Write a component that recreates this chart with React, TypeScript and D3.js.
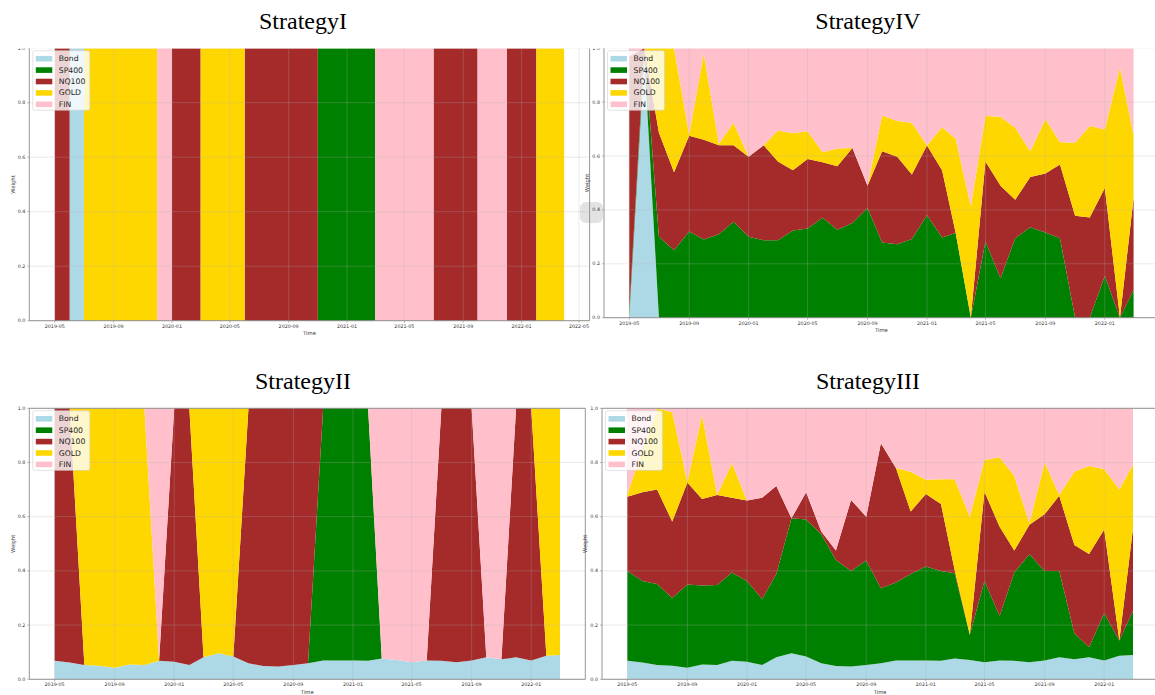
import React from 'react';
import * as d3 from 'd3';

const MONTHS = [
  '2019-05','2019-06','2019-07','2019-08','2019-09','2019-10','2019-11','2019-12',
  '2020-01','2020-02','2020-03','2020-04','2020-05','2020-06','2020-07','2020-08',
  '2020-09','2020-10','2020-11','2020-12','2021-01','2021-02','2021-03','2021-04',
  '2021-05','2021-06','2021-07','2021-08','2021-09','2021-10','2021-11','2021-12',
  '2022-01','2022-02','2022-03'
];
const STRAT_I_END = '2022-03-31';

const ASSETS = ['Bond', 'SP400', 'NQ100', 'GOLD', 'FIN'];
const COLORS = ['#add8e6', '#008000', '#a52a2a', '#ffd700', '#ffc0cb'];

// StrategyI: one asset held per month
const STRAT_I_PICK = [
  'NQ100','Bond','GOLD','GOLD','GOLD','GOLD','GOLD','FIN',
  'NQ100','NQ100','GOLD','GOLD','GOLD','NQ100','NQ100','NQ100',
  'NQ100','NQ100','SP400','SP400','SP400','SP400','FIN','FIN',
  'FIN','FIN','NQ100','NQ100','NQ100','FIN','FIN','NQ100',
  'NQ100','GOLD','GOLD'
];

// StrategyII: bond sleeve + one asset per month
const STRAT_II_PICK = [
  'NQ100','NQ100','GOLD','GOLD','GOLD','GOLD','GOLD','FIN',
  'NQ100','NQ100','GOLD','GOLD','GOLD','NQ100','NQ100','NQ100',
  'NQ100','NQ100','SP400','SP400','SP400','SP400','FIN','FIN',
  'FIN','FIN','NQ100','NQ100','NQ100','FIN','FIN','NQ100',
  'NQ100','GOLD','GOLD'
];
const STRAT_II_BOND = [
  0.068,0.062,0.053,0.050,0.043,0.055,0.053,0.068,0.065,0.053,0.081,0.096,0.084,0.059,0.049,0.047,
  0.053,0.059,0.069,0.069,0.069,0.068,0.077,0.071,0.063,0.069,0.068,0.063,0.069,0.081,0.074,0.081,
  0.069,0.087,0.090
];

// StrategyIII
const S3_BOND = [
  0.068,0.062,0.053,0.050,0.043,0.055,0.053,0.068,0.065,0.053,0.081,0.096,0.084,0.059,0.049,0.047,
  0.053,0.059,0.069,0.069,0.069,0.068,0.077,0.071,0.063,0.069,0.068,0.063,0.069,0.081,0.074,0.081,
  0.069,0.087,0.090
];
const S3_SP400 = [
  0.332,0.301,0.299,0.250,0.307,0.291,0.295,0.326,0.298,0.243,0.308,0.498,0.506,0.476,0.391,0.353,
  0.385,0.277,0.288,0.320,0.347,0.332,0.314,0.093,0.300,0.165,0.326,0.398,0.331,0.319,0.096,0.037,
  0.175,0.056,0.163
];
const S3_NQ100 = [
  0.274,0.327,0.348,0.282,0.376,0.319,0.332,0.276,0.297,0.374,0.324,0.000,0.100,0.010,0.035,0.262,
  0.162,0.535,0.422,0.230,0.268,0.247,0.012,0.000,0.329,0.329,0.081,0.109,0.209,0.277,0.326,0.344,
  0.309,0.000,0.304
];
const S3_GOLD = [
  0.006,0.160,0.300,0.403,0.004,0.310,0.000,0.127,0.000,0.000,0.000,0.000,0.000,0.000,0.000,0.000,
  0.000,0.000,0.001,0.147,0.052,0.091,0.335,0.436,0.117,0.256,0.275,0.006,0.191,0.003,0.270,0.325,
  0.223,0.557,0.236
];
const S3_FIN = [
  0.320,0.150,0.000,0.015,0.270,0.025,0.320,0.203,0.340,0.330,0.287,0.406,0.310,0.455,0.525,0.338,
  0.400,0.129,0.220,0.234,0.264,0.262,0.262,0.400,0.191,0.181,0.250,0.424,0.200,0.320,0.234,0.213,
  0.224,0.300,0.207
];

// StrategyIV
const S4_BOND = [
  0.000,0.965,0.000,0.000,0.000,0.000,0.000,0.000,0.000,0.000,0.000,0.000,0.000,0.000,0.000,0.000,
  0.000,0.000,0.000,0.000,0.000,0.000,0.000,0.000,0.000,0.000,0.000,0.000,0.000,0.000,0.000,0.000,
  0.000,0.000,0.000
];
const S4_SP400 = [
  0.020,0.035,0.300,0.250,0.320,0.290,0.310,0.356,0.300,0.287,0.287,0.324,0.331,0.371,0.326,0.351,
  0.407,0.279,0.273,0.292,0.380,0.298,0.314,0.000,0.283,0.146,0.295,0.336,0.316,0.295,0.000,0.000,
  0.156,0.000,0.103
];
const S4_NQ100 = [
  0.950,0.000,0.386,0.290,0.355,0.370,0.330,0.284,0.297,0.353,0.293,0.223,0.258,0.206,0.236,0.279,
  0.083,0.339,0.324,0.239,0.259,0.249,0.000,0.000,0.297,0.344,0.143,0.186,0.219,0.273,0.378,0.372,
  0.325,0.000,0.341
];
const S4_GOLD = [
  0.000,0.000,0.314,0.460,0.005,0.320,0.005,0.083,0.000,0.000,0.115,0.137,0.103,0.037,0.066,0.000,
  0.000,0.132,0.133,0.192,0.000,0.160,0.350,0.413,0.168,0.256,0.267,0.096,0.201,0.083,0.271,0.339,
  0.217,0.928,0.233
];
const S4_FIN = [
  0.030,0.000,0.000,0.000,0.320,0.020,0.355,0.277,0.403,0.360,0.305,0.316,0.308,0.386,0.372,0.370,
  0.510,0.250,0.270,0.277,0.361,0.293,0.336,0.587,0.252,0.254,0.295,0.382,0.264,0.349,0.351,0.289,
  0.302,0.072,0.323
];

const Y_TICKS = [0, 0.2, 0.4, 0.6, 0.8, 1.0];

const parseMonth = d3.timeParse('%Y-%m');
const parseDay = d3.timeParse('%Y-%m-%d');
const fmt = d3.timeFormat('%Y-%m');

type Row = { date: Date; [k: string]: any };

function pickRows(picks: string[], bond: number[] | null): Row[] {
  return MONTHS.map((m, i) => {
    const r: Row = { date: parseMonth(m) as Date };
    ASSETS.forEach((a) => (r[a] = 0));
    const b = bond ? bond[i] : 0;
    if (bond) r.Bond = b;
    r[picks[i]] += 1 - b;
    return r;
  });
}

function seriesRows(cols: number[][]): Row[] {
  return MONTHS.map((m, i) => {
    const r: Row = { date: parseMonth(m) as Date };
    ASSETS.forEach((a, k) => (r[a] = cols[k][i]));
    return r;
  });
}

const rowsI = (() => {
  const r = pickRows(STRAT_I_PICK, null);
  const last = { ...r[r.length - 1], date: parseDay(STRAT_I_END) as Date };
  return [...r, last];
})();
const rowsII = pickRows(STRAT_II_PICK, STRAT_II_BOND);
const rowsIII = seriesRows([S3_BOND, S3_SP400, S3_NQ100, S3_GOLD, S3_FIN]);
const rowsIV = seriesRows([S4_BOND, S4_SP400, S4_NQ100, S4_GOLD, S4_FIN]);

type Panel = {
  id: string; title: string; rows: Row[]; step: boolean;
  left: number; right: number; top: number; bottom: number;
  clipTop: number; titleX: number; titleY: number;
  topSpine: boolean; rightSpine: boolean;
};

const PANELS: Panel[] = [
  { id: 'p1', title: 'StrategyI', rows: rowsI, step: true, left: 29.3, right: 589.6, top: 48.2, bottom: 320.7, clipTop: 48.5, titleX: 303, titleY: 29, topSpine: false, rightSpine: true },
  { id: 'p4', title: 'StrategyIV', rows: rowsIV, step: false, left: 604, right: 1158.8, top: 48.2, bottom: 317.7, clipTop: 48.5, titleX: 868, titleY: 29, topSpine: false, rightSpine: true },
  { id: 'p2', title: 'StrategyII', rows: rowsII, step: false, left: 29.3, right: 585.3, top: 408.3, bottom: 679.3, clipTop: 406.3, titleX: 303, titleY: 389, topSpine: true, rightSpine: true },
  { id: 'p3', title: 'StrategyIII', rows: rowsIII, step: false, left: 602, right: 1158.3, top: 408.3, bottom: 679.3, clipTop: 406.3, titleX: 868, titleY: 389, topSpine: true, rightSpine: true },
];

const SANS = "'DejaVu Sans', Verdana, sans-serif";
const SERIF = "'Liberation Serif', 'Times New Roman', serif";
const SPINE = '#8a8a8a';

function PanelView({ p }: { p: Panel }) {
  const ext = d3.extent(p.rows, (d) => d.date) as [Date, Date];
  const span = +ext[1] - +ext[0];
  const x = d3.scaleTime()
    .domain([new Date(+ext[0] - span * 0.05), new Date(+ext[1] + span * 0.05)])
    .range([p.left, p.right]);
  const y = d3.scaleLinear().domain([0, 1]).range([p.bottom, p.top]);
  const stack = d3.stack<Row>().keys(ASSETS);
  const layers = stack(p.rows);
  const area = d3.area<any>()
    .x((d) => x(d.data.date))
    .y0((d) => y(d[0]))
    .y1((d) => y(d[1]))
    .curve(p.step ? d3.curveStepAfter : d3.curveLinear);
  const xt = x.ticks(d3.timeMonth.every(4) as any).filter((t) => x(t) >= p.left && x(t) <= p.right);
  const lx = p.left + 3.5;
  const ly = p.top + 2.5;
  return (
    <g>
      <defs>
        <clipPath id={`clip-${p.id}`}>
          <rect x={-20} y={p.clipTop} width={1300} height={400} />
        </clipPath>
      </defs>
      <text x={p.titleX} y={p.titleY} textAnchor="middle" fontFamily={SERIF} fontSize={24} fill="#000">{p.title}</text>
      <g clipPath={`url(#clip-${p.id})`}>
        {layers.map((L, k) => (
          <path key={k} d={area(L as any) || ''} fill={COLORS[k]} stroke="none" />
        ))}
        {xt.map((t, i) => (
          <line key={'gx' + i} x1={x(t)} x2={x(t)} y1={p.top} y2={p.bottom} stroke="#b0b0b0" strokeOpacity={0.45} strokeWidth={0.6} />
        ))}
        {Y_TICKS.map((v, i) => (
          <line key={'gy' + i} x1={p.left} x2={p.right} y1={y(v)} y2={y(v)} stroke="#b0b0b0" strokeOpacity={0.45} strokeWidth={0.6} />
        ))}
        <line x1={p.left} x2={p.left} y1={p.top} y2={p.bottom} stroke={SPINE} strokeWidth={0.9} />
        <line x1={p.left} x2={p.right} y1={p.bottom} y2={p.bottom} stroke={SPINE} strokeWidth={0.9} />
        {p.rightSpine && <line x1={p.right} x2={p.right} y1={p.top} y2={p.bottom} stroke={SPINE} strokeWidth={0.9} />}
        {p.topSpine && <line x1={p.left} x2={p.right} y1={p.top} y2={p.top} stroke={SPINE} strokeWidth={0.9} />}
        {xt.map((t, i) => (
          <g key={'xt' + i}>
            <line x1={x(t)} x2={x(t)} y1={p.bottom} y2={p.bottom + 2} stroke={SPINE} strokeWidth={0.6} />
            <text x={x(t)} y={p.bottom + 5.6} textAnchor="middle" dominantBaseline="central" fontFamily={SANS} fontSize={4.8} fill="#333">{fmt(t)}</text>
          </g>
        ))}
        {Y_TICKS.map((v, i) => (
          <g key={'yt' + i}>
            <line x1={p.left - 2} x2={p.left} y1={y(v)} y2={y(v)} stroke={SPINE} strokeWidth={0.6} />
            <text x={p.left - 4} y={y(v)} textAnchor="end" dominantBaseline="central" fontFamily={SANS} fontSize={4.8} fill="#333">{v.toFixed(1)}</text>
          </g>
        ))}
        <text x={(p.left + p.right) / 2} y={p.bottom + 12.6} textAnchor="middle" dominantBaseline="central" fontFamily={SANS} fontSize={5.3} fill="#333">Time</text>
        <text transform={`translate(${p.left - 16.6},${(p.top + p.bottom) / 2}) rotate(-90)`} textAnchor="middle" dominantBaseline="central" fontFamily={SANS} fontSize={5.3} fill="#333">Weight</text>
        <g>
          <rect x={lx} y={ly} width={57} height={59.5} rx={2} fill="#fff" fillOpacity={0.8} stroke="#d0d0d0" strokeWidth={0.6} />
          {ASSETS.map((a, k) => (
            <g key={a}>
              <rect x={lx + 3} y={ly + 8 + k * 11.4 - 2.8} width={16.5} height={5.6} fill={COLORS[k]} />
              <text x={lx + 26} y={ly + 8 + k * 11.4} dominantBaseline="central" fontFamily={SANS} fontSize={7.7} fill="#222">{a}</text>
            </g>
          ))}
        </g>
      </g>
    </g>
  );
}

export default function App() {
  return (
    <svg width={1155} height={695} style={{ position: 'absolute', left: 0, top: 0, background: '#fff' }}>
      <rect x={0} y={0} width={1155} height={695} fill="#fff" />
      <rect x={580} y={202} width={23} height={21} rx={6} fill="#e2e2e2" />
      {PANELS.map((p) => (
        <PanelView key={p.id} p={p} />
      ))}
    </svg>
  );
}
